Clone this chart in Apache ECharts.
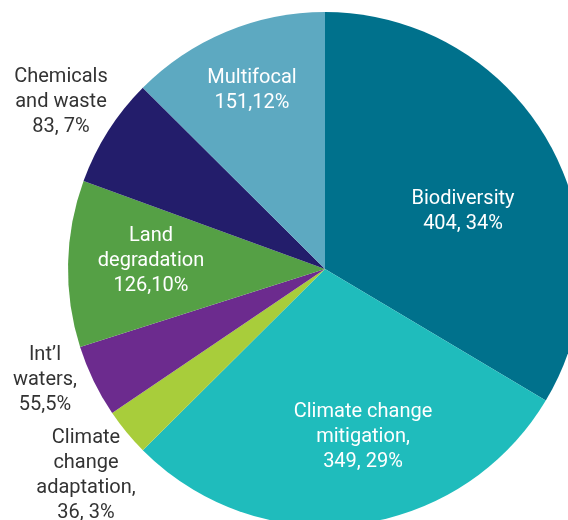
<!DOCTYPE html>
<html>
<head>
<meta charset="utf-8">
<script src="https://cdn.jsdelivr.net/npm/echarts@6/dist/echarts.min.js"></script>
<style>
  html, body { margin: 0; padding: 0; background: #ffffff; }
  #chart { width: 568px; height: 520px; }
</style>
</head>
<body>
<div id="chart"></div>
<script>
// Funding by focal area (clockwise from the top)
const categories = [
  'Biodiversity',
  'Climate change mitigation',
  'Climate change adaptation',
  "Int'l waters",
  'Land degradation',
  'Chemicals and waste',
  'Multifocal'
];
const values = [404, 349, 36, 55, 126, 83, 151];
const percents = [34, 29, 3, 5, 10, 7, 12];
const labelLines = [
  ['Biodiversity'],
  ['Climate change', 'mitigation,'],
  ['Climate', 'change', 'adaptation,'],
  ['Int\u2019l', 'waters,'],
  ['Land', 'degradation'],
  ['Chemicals', 'and waste'],
  ['Multifocal']
];
const valueSeparators = [', ', ', ', ', ', ',', ',', ', ', ','];
const colors = ['#00718C', '#1FBCBC', '#A8CD3B', '#6C2B8E', '#55A045', '#231D6B', '#5DA9C1'];

// Label anchor points (centre of each text block) and text colours
const labelAnchors = [[463, 211], [363, 437], [86, 475], [45, 380], [151, 261], [61, 102], [252, 90]];
const labelColors = ['#ffffff', '#ffffff', '#333333', '#333333', '#ffffff', '#333333', '#ffffff'];

const chart = echarts.init(document.getElementById('chart'));

const data = categories.map((name, i) => ({
  name: name,
  value: values[i],
  itemStyle: { color: colors[i] },
  label: { color: labelColors[i] }
}));

chart.setOption({
  animation: false,
  series: [{
    type: 'pie',
    center: [325, 269],
    radius: [0, 257],
    startAngle: 90,
    clockwise: true,
    silent: true,
    data: data,
    labelLine: { show: false },
    label: {
      show: true,
      position: 'inside',
      fontFamily: 'Roboto, "DejaVu Sans", sans-serif',
      fontSize: 20,
      lineHeight: 25,
      align: 'center',
      formatter: (p) => {
        const i = p.dataIndex;
        return labelLines[i].concat([values[i] + valueSeparators[i] + percents[i] + '%']).join('\n');
      }
    },
    labelLayout: (p) => {
      const a = labelAnchors[p.dataIndex];
      return { x: a[0], y: a[1], align: 'center', verticalAlign: 'middle', hideOverlap: false };
    }
  }]
});
</script>
</body>
</html>
